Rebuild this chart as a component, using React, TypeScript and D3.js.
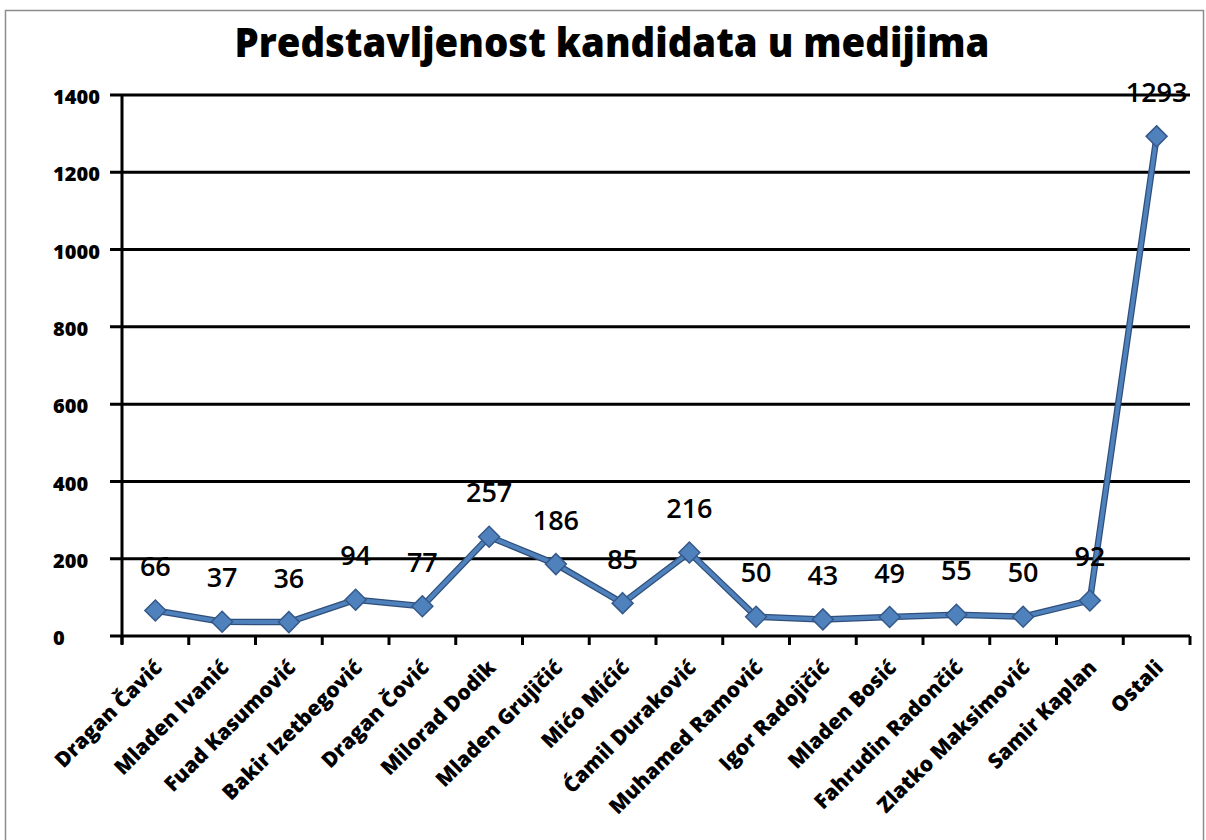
import { useRef, useEffect } from "react";
import * as d3 from "d3";

const TITLE = "Predstavljenost kandidata u medijima";

const candidates = [
  "Dragan Čavić",
  "Mladen Ivanić",
  "Fuad Kasumović",
  "Bakir Izetbegović",
  "Dragan Čović",
  "Milorad Dodik",
  "Mladen Grujičić",
  "Mićo Mićić",
  "Ćamil Duraković",
  "Muhamed Ramović",
  "Igor Radojičić",
  "Mladen Bosić",
  "Fahrudin Radončić",
  "Zlatko Maksimović",
  "Samir Kaplan",
  "Ostali",
];

const mentions = [66, 37, 36, 94, 77, 257, 186, 85, 216, 50, 43, 49, 55, 50, 92, 1293];

const yTicks = [0, 200, 400, 600, 800, 1000, 1200, 1400];

export default function App() {
  const svgRef = useRef<SVGSVGElement | null>(null);

  useEffect(() => {
    const svg = d3.select(svgRef.current);
    svg.selectAll("*").remove();

    const width = 1206;
    const height = 840;
    const left = 122;
    const right = 1190;
    const top = 95;
    const bottom = 636;
    const font = "'Open Sans', 'DejaVu Sans', sans-serif";

    svg.attr("width", width).attr("height", height);

    // outer frame
    svg
      .append("rect")
      .attr("x", 5.5)
      .attr("y", 10.5)
      .attr("width", 1198)
      .attr("height", 840)
      .attr("fill", "#fff")
      .attr("stroke", "#8c8c8c")
      .attr("stroke-width", 1.5);

    svg
      .append("text")
      .attr("x", 612)
      .attr("y", 57)
      .attr("text-anchor", "middle")
      .attr("font-family", font)
      .attr("font-weight", 800)
      .attr("font-size", 40)
      .attr("textLength", 755)
      .attr("lengthAdjust", "spacingAndGlyphs")
      .attr("fill", "#000")
      .text(TITLE);

    const x = d3.scaleBand<string>().domain(candidates).range([left, right]);
    const y = d3.scaleLinear().domain([0, 1400]).range([bottom, top]);

    const g = svg.append("g");

    // gridlines + y ticks
    g.selectAll("line.grid")
      .data(yTicks.filter((t) => t > 0))
      .join("line")
      .attr("class", "grid")
      .attr("x1", left - 12)
      .attr("x2", right)
      .attr("y1", (d) => y(d))
      .attr("y2", (d) => y(d))
      .attr("stroke", "#000")
      .attr("stroke-width", 3);

    // tick labels sit left-aligned in the reference
    g.selectAll("text.ytick")
      .data(yTicks)
      .join("text")
      .attr("class", "ytick")
      .attr("x", 53)
      .attr("y", (d) => y(d) + 2)
      .attr("dy", "0.36em")
      .attr("text-anchor", "start")
      .attr("font-family", font)
      .attr("font-weight", 800)
      .attr("font-size", 20)
      .attr("fill", "#000")
      .text((d) => d);

    // axes
    g.append("line")
      .attr("x1", left)
      .attr("x2", left)
      .attr("y1", top)
      .attr("y2", bottom + 8)
      .attr("stroke", "#000")
      .attr("stroke-width", 3);
    g.append("line")
      .attr("x1", left - 12)
      .attr("x2", right)
      .attr("y1", bottom)
      .attr("y2", bottom)
      .attr("stroke", "#000")
      .attr("stroke-width", 3);

    const boundaries = candidates.map((c) => x(c) as number).concat([right]);
    g.selectAll("line.xtick")
      .data(boundaries)
      .join("line")
      .attr("class", "xtick")
      .attr("x1", (d) => d)
      .attr("x2", (d) => d)
      .attr("y1", bottom)
      .attr("y2", bottom + 9)
      .attr("stroke", "#000")
      .attr("stroke-width", 3);

    const cx = (c: string) => (x(c) as number) + x.bandwidth() / 2;

    g.selectAll("text.xlabel")
      .data(candidates)
      .join("text")
      .attr("class", "xlabel")
      .attr("text-anchor", "end")
      .attr("transform", (d) => `translate(${cx(d) + 8},${bottom + 33}) rotate(-45)`)
      .attr("font-family", font)
      .attr("font-weight", 800)
      .attr("font-size", 21)
      .attr("fill", "#000")
      .text((d) => d);

    const pts = candidates.map((c, i) => ({ c, v: mentions[i] }));

    const line = d3
      .line<{ c: string; v: number }>()
      .x((d) => cx(d.c))
      .y((d) => y(d.v));

    g.append("path")
      .datum(pts)
      .attr("d", line)
      .attr("fill", "none")
      .attr("stroke", "#2f4f7a")
      .attr("stroke-width", 6.5)
      .attr("stroke-linejoin", "round");
    g.append("path")
      .datum(pts)
      .attr("d", line)
      .attr("fill", "none")
      .attr("stroke", "#4f81bd")
      .attr("stroke-width", 4)
      .attr("stroke-linejoin", "round");

    const diamond = d3.symbol().type(d3.symbolDiamond2).size(280);
    g.selectAll("path.marker")
      .data(pts)
      .join("path")
      .attr("class", "marker")
      .attr("d", diamond)
      .attr("transform", (d) => `translate(${cx(d.c)},${y(d.v)})`)
      .attr("fill", "#4f81bd")
      .attr("stroke", "#35598a")
      .attr("stroke-width", 1.5);

    g.selectAll("text.value")
      .data(pts)
      .join("text")
      .attr("class", "value")
      .attr("x", (d) => cx(d.c))
      .attr("y", (d) => y(d.v) - 44)
      .attr("dy", "0.36em")
      .attr("text-anchor", "middle")
      .attr("font-family", font)
      .attr("font-weight", 600)
      .attr("font-size", 27)
      .attr("fill", "#000")
      .text((d) => d.v);
  }, []);

  return (
    <svg
      ref={svgRef}
      style={{ position: "absolute", left: 0, top: 0, display: "block" }}
    />
  );
}
